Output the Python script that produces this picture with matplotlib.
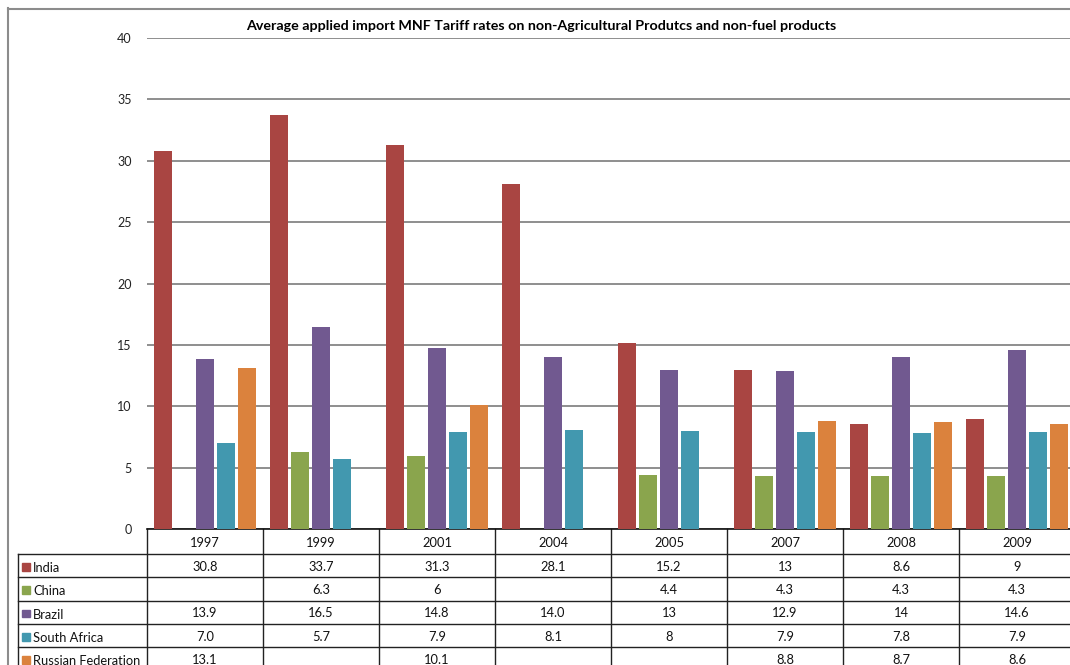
import numpy as np
import matplotlib
matplotlib.use("Agg")
import matplotlib.pyplot as plt
from matplotlib.patches import Rectangle
from matplotlib.lines import Line2D

plt.rcParams["font.family"] = ["Lato", "DejaVu Sans"]

# tariff rates (%), as printed in the data table; blank = no data
years = ["1997", "1999", "2001", "2004", "2005", "2007", "2008", "2009"]
countries = ["India", "China", "Brazil", "South Africa", "Russian Federation"]
india = ["30.8", "33.7", "31.3", "28.1", "15.2", "13", "8.6", "9"]
china = ["", "6.3", "6", "", "4.4", "4.3", "4.3", "4.3"]
brazil = ["13.9", "16.5", "14.8", "14.0", "13", "12.9", "14", "14.6"]
south_africa = ["7.0", "5.7", "7.9", "8.1", "8", "7.9", "7.8", "7.9"]
russia = ["13.1", "", "10.1", "", "", "8.8", "8.7", "8.6"]
colors = ["#a94542", "#8aa54d", "#715990", "#4298af", "#db823d"]

rows = [india, china, brazil, south_africa, russia]


def to_num(vals):
    return np.array([float(v) if v else np.nan for v in vals])


W, H = 1070, 665
fig = plt.figure(figsize=(W / 100, H / 100), dpi=100)

# plot area in pixels (from top-left)
px_left, px_zero, px_top, col_w = 147, 529.3, 38, 116
ax = fig.add_axes([px_left / W, (H - px_zero) / H,
                   len(years) * col_w / W, (px_zero - px_top) / H])
ax.set_xlim(-0.5, len(years) - 0.5)
ax.set_ylim(0, 40)

x = np.arange(len(years))
slot = 21 / col_w
bw = 18 / col_w
for i, (vals, c) in enumerate(zip(rows, colors)):
    ax.bar(x + (i - 2) * slot, to_num(vals), width=bw, color=c, zorder=3)

ax.set_yticks(np.arange(0, 41, 5))
ax.yaxis.grid(True, color="#868686", lw=1.3, zorder=0)
ax.set_axisbelow(True)
ax.tick_params(axis="y", length=0, pad=11, labelsize=9, labelcolor="#222222")
ax.set_xticks([])
for s in ["left", "right", "top"]:
    ax.spines[s].set_visible(False)
ax.spines["bottom"].set_color("#111111")
ax.spines["bottom"].set_linewidth(1.2)

ax.set_title("Average applied import MNF Tariff rates on non-Agricultural Produtcs and non-fuel products",
             fontsize=10.3, fontweight="bold", pad=6, x=0.425)

# data table below the axis
plot_h = px_zero - px_top
tr = ax.get_xaxis_transform()


def ay(py):
    return (px_zero - py) / plot_h


hdr_bot = 554
row_h = 23.3
lab_left = -0.5 - (px_left - 18) / col_w
lc = "#222222"
lw = 1.0
fs = 9.3
row_lines = [hdr_bot + k * row_h for k in range(len(countries) + 1)]
for yl in row_lines:
    ax.add_line(Line2D([lab_left, len(years) - 0.5], [ay(yl), ay(yl)],
                       transform=tr, color=lc, lw=lw, clip_on=False))
ax.add_line(Line2D([lab_left, lab_left], [ay(hdr_bot), ay(H + 5)],
                   transform=tr, color=lc, lw=lw, clip_on=False))
for k in range(len(years) + 1):
    xv = k - 0.5
    ax.add_line(Line2D([xv, xv], [0, ay(H + 5)],
                       transform=tr, color=lc, lw=lw, clip_on=False))

for k, yr in enumerate(years):
    ax.text(k, ay((px_zero + hdr_bot) / 2 + 1), yr, transform=tr, ha="center",
            va="center", fontsize=fs, color="#111111")

sq = 7.5 / col_w
for r, (name, vals, c) in enumerate(zip(countries, rows, colors)):
    yc = hdr_bot + (r + 0.5) * row_h + 1
    ax.add_patch(Rectangle((lab_left + 4 / col_w, ay(yc + 4)), sq, 7.5 / plot_h,
                           transform=tr, color=c, clip_on=False))
    ax.text(lab_left + 15 / col_w, ay(yc + 1.5), name, transform=tr, ha="left",
            va="center", fontsize=fs, color="#111111")
    for k, v in enumerate(vals):
        if v:
            ax.text(k, ay(yc), v, transform=tr, ha="center", va="center",
                    fontsize=fs, color="#111111")

# chart frame
fig.add_artist(Line2D([8 / W, 8 / W], [0, 1 - 8 / H], transform=fig.transFigure,
                      color="#8c8c8c", lw=1.5))
fig.add_artist(Line2D([8 / W, 1], [1 - 8.5 / H, 1 - 8.5 / H], transform=fig.transFigure,
                      color="#8c8c8c", lw=1.5))

fig.savefig("out.png", dpi=100)
